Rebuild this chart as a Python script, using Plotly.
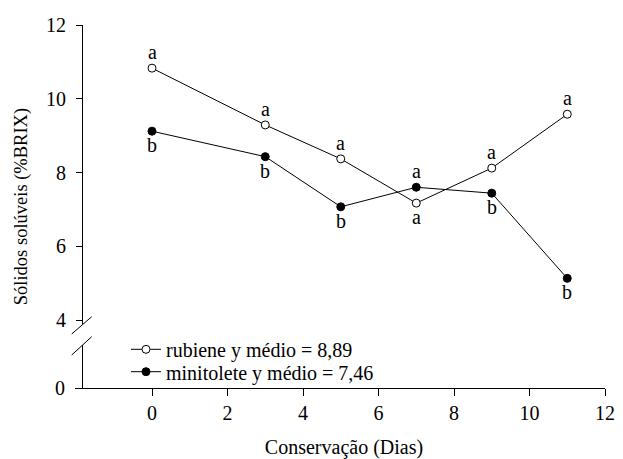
import plotly.graph_objects as go

# ---- data ----
dias = [0, 3, 5, 7, 9, 11]
rubiene = [10.83, 9.29, 8.37, 7.17, 8.12, 9.58]
minitolete = [9.12, 8.43, 7.07, 7.60, 7.44, 5.13]
letras_rubiene = ["a", "a", "a", "a", "a", "a"]
letras_minitolete = ["b", "b", "b", "a", "b", "b"]
lado_rubiene = ["acima", "acima", "acima", "abaixo", "acima", "acima"]
lado_minitolete = ["abaixo", "abaixo", "abaixo", "acima", "abaixo", "abaixo"]
nomes = ["rubiene y médio = 8,89", "minitolete y médio = 7,46"]
x_ticks = [0, 2, 4, 6, 8, 10, 12]
y_ticks_sup = [4, 6, 8, 10, 12]
y_ticks_inf = [0]
titulo_x = "Conservação (Dias)"
titulo_y = "Sólidos solúveis (%BRIX)"

# ---- layout geometry ----
# The page body has an 8 px default margin, so the figure is drawn 8 px
# right/down of the window origin; positions below are window pixels.
OFF = 8
W, H = 623 - OFF, 459 - OFF
top_px, axis_px, left_px, right_px = 25, 388, 83, 605
zero_px = 152  # pixel of x = 0
ML = left_px - OFF
MT = top_px - OFF
MR = W - (right_px - OFF)
MB = H - (axis_px - OFF)
PW, PH = W - ML - MR, H - MT - MB
upper_bottom_px = 323.7
lower_top_px = 345.0
x_max = x_ticks[-1]
x_min = -(zero_px - left_px) * x_max / (right_px - zero_px)

def py2paper(py):
    return (axis_px - py) / PH

def px2paper(px):
    return (px - left_px) / PW

FONT = "Liberation Serif, Times New Roman, serif"

fig = go.Figure()
# empty trace so the lower (broken) axis panel exists and carries the x axis
fig.add_trace(go.Scatter(x=[None], y=[None], xaxis="x", yaxis="y",
                         showlegend=False, hoverinfo="skip", mode="markers"))
fig.add_trace(go.Scatter(
    x=dias, y=rubiene, name=nomes[0], mode="lines+markers",
    xaxis="x", yaxis="y2", legend="legend",
    line=dict(color="black", width=1),
    marker=dict(symbol="circle", size=8, color="white",
                line=dict(color="black", width=1)),
))
fig.add_trace(go.Scatter(
    x=dias, y=minitolete, name=nomes[1], mode="lines+markers",
    xaxis="x", yaxis="y2", legend="legend2",
    line=dict(color="black", width=1),
    marker=dict(symbol="circle", size=8, color="black",
                line=dict(color="black", width=1)),
))

annotations = []
for xs, ys, letras, lados in [(dias, rubiene, letras_rubiene, lado_rubiene),
                              (dias, minitolete, letras_minitolete, lado_minitolete)]:
    for xv, yv, t, lado in zip(xs, ys, letras, lados):
        annotations.append(dict(
            x=xv, y=yv, xref="x", yref="y2", text=t, showarrow=False,
            yshift=16 if lado == "acima" else -14,
            font=dict(family=FONT, size=20, color="black"),
        ))

annotations.append(dict(
    x=px2paper(21.7), y=py2paper((top_px + axis_px) / 2), xref="paper", yref="paper",
    text=titulo_y, textangle=-90, showarrow=False,
    xanchor="center", yanchor="middle",
    font=dict(family=FONT, size=18.5, color="black"),
))

# axis break marks
shapes = []
for (xa, ya, xb, yb) in [(71.7, 334.0, 91.7, 316.7), (71.7, 355.0, 91.7, 336.7)]:
    shapes.append(dict(type="line", xref="paper", yref="paper",
                       x0=px2paper(xa), y0=py2paper(ya),
                       x1=px2paper(xb), y1=py2paper(yb),
                       line=dict(color="black", width=1)))

axis_common = dict(showline=True, linecolor="black", linewidth=1,
                   showgrid=False, zeroline=False, ticks="outside",
                   tickcolor="black", tickwidth=1,
                   tickfont=dict(family=FONT, size=20, color="black"))

legend_common = dict(xanchor="left", yanchor="middle",
                     bgcolor="rgba(0,0,0,0)", borderwidth=0,
                     font=dict(family=FONT, size=20, color="black"))

fig.update_layout(
    width=W, height=H,
    margin=dict(l=ML, r=MR, t=MT, b=MB, autoexpand=False),
    paper_bgcolor="white", plot_bgcolor="white",
    font=dict(family=FONT, size=19, color="black"),
    showlegend=True,
    legend=dict(x=px2paper(126), y=py2paper(349.3), **legend_common),
    legend2=dict(x=px2paper(126), y=py2paper(371.7), **legend_common),
    xaxis=dict(domain=[0, 1], range=[x_min, x_max], anchor="y",
               tickvals=x_ticks, ticklen=7, ticklabeloverflow="allow",
               title=dict(text=titulo_x, standoff=27,
                          font=dict(family=FONT, size=20, color="black")),
               **axis_common),
    yaxis=dict(domain=[0, py2paper(lower_top_px)], range=[0, 1], anchor="x",
               tickvals=y_ticks_inf, ticklen=7, ticklabelstandoff=6, **axis_common),
    yaxis2=dict(domain=[py2paper(upper_bottom_px), 1], range=[3.9, 12], anchor="x",
                tickvals=y_ticks_sup, ticklen=6, ticklabelstandoff=6, **axis_common),
    annotations=annotations,
    shapes=shapes,
)

fig.write_html("out.html")
